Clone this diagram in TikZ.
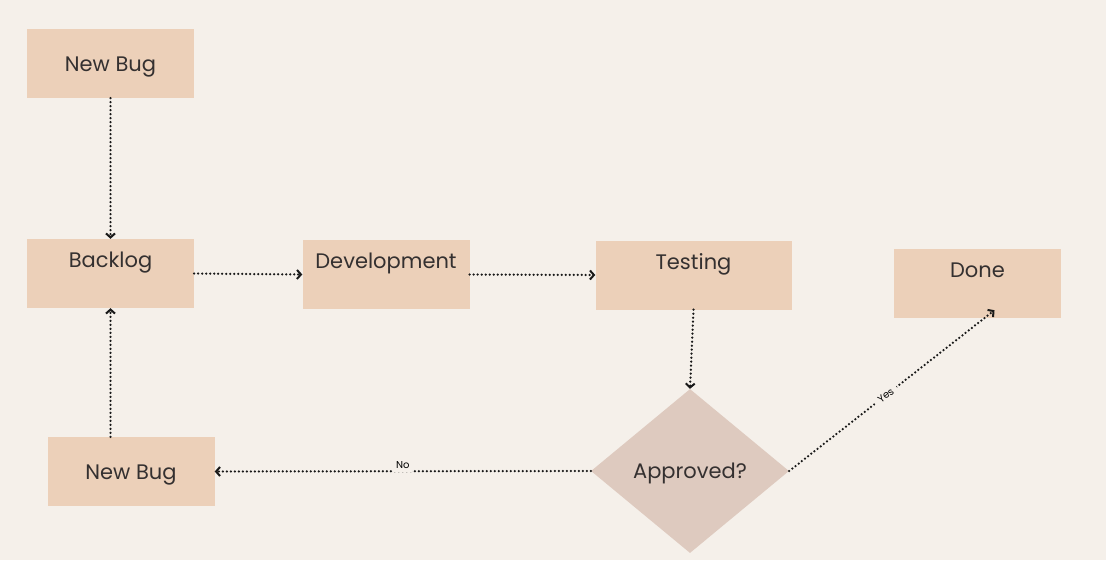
\documentclass[tikz,border=0pt]{standalone}
\usepackage{fontspec}
\setmainfont{Poppins}
\usetikzlibrary{shapes.geometric,arrows.meta}
\definecolor{bugbg}{RGB}{245,240,234}
\definecolor{bugbox}{RGB}{236,208,185}
\definecolor{bugdiam}{RGB}{222,202,191}
\definecolor{bugtext}{RGB}{52,48,48}
\begin{document}
\begin{tikzpicture}[%
                x=1pt, y=-1pt,
                mybox/.style={shape=rectangle, fill=bugbox, minimum width=167pt, minimum height=69pt,
                    inner sep=0pt, text=bugtext, font=\fontsize{21}{24}\selectfont,
                    text height=15pt, text depth=0pt},
                mytopbox/.style={mybox, text height=15pt, text depth=27pt},
                mydiamond/.style={shape=diamond, fill=bugdiam, aspect=1.2, minimum width=198pt,
                    minimum height=164pt, inner sep=0pt, text=bugtext, font=\fontsize{21}{24}\selectfont,
                    text height=15pt, text depth=0pt},
                myarrow/.style={line width=2.5pt, line cap=round, dash pattern=on 0pt off 4pt,
                    color=black!90, -{Straight Barb[length=4pt,width=9pt,line width=2pt,line cap=butt]}},
                mylabel/.style={fill=bugbg, inner sep=3pt, text=black, font=\fontsize{10}{12}\selectfont}
            ]
            \fill [bugbg] (0,0) rectangle (1106,560);
            \useasboundingbox (0,0) rectangle (1106,560);
            \node [mybox] (newbugtop) at (110.5,63.5) {New Bug};
            \node [mytopbox] (backlog) at (110.5,273.5) {Backlog};
            \node [mytopbox] (development) at (386,274.5) {Development};
            \node [mytopbox, minimum width=196pt] (testing) at (693.5,275) {Testing};
            \node [mytopbox] (done) at (977.5,283.5) {Done};
            \node [mybox] (newbugbot) at (131,471.5) {New Bug};
            \node [mydiamond] (approved) at (690,471) {Approved?};
            \draw [myarrow] (newbugtop) -- (backlog);
            \draw [myarrow] (backlog.east) -- (development.west);
            \draw [myarrow] (development.east) -- (testing.west);
            \draw [myarrow] (testing.south) -- (approved.north);
            \draw [myarrow] (approved.west) -- node [mylabel, yshift=6pt] {No} (newbugbot.east);
            \draw [myarrow] (newbugbot.north -| backlog.south) -- (backlog.south);
            \draw [myarrow] (approved.east) -- node [mylabel, sloped, pos=0.47, inner sep=5pt] {Yes}
                ([xshift=17pt,yshift=8pt]done.south);
        \end{tikzpicture}
\end{document}
